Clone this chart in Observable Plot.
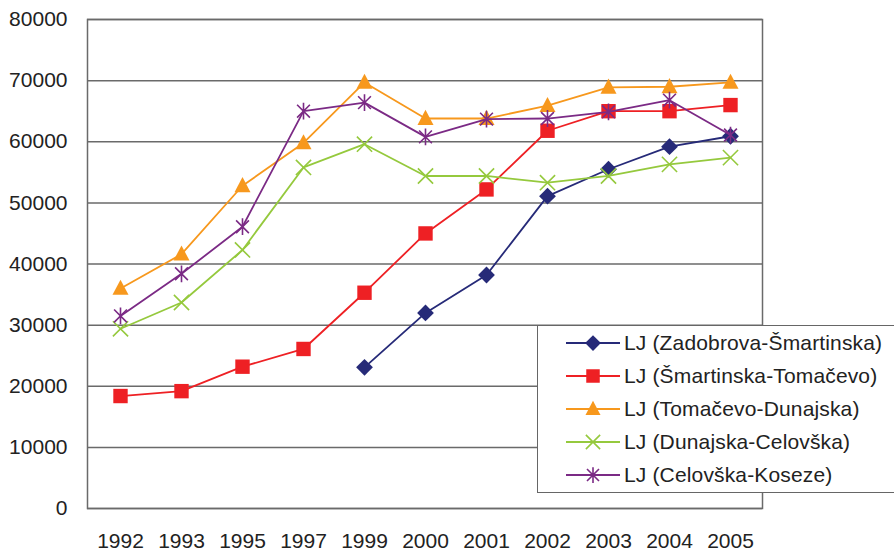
<!DOCTYPE html>
<html>
<head>
<meta charset="utf-8">
<script src="https://cdn.jsdelivr.net/npm/d3@7"></script>
<script src="https://cdn.jsdelivr.net/npm/@observablehq/plot@0.6"></script>
<style>
  html, body { margin: 0; padding: 0; background: #fff; overflow: hidden; }
  #wrap { position: relative; width: 894px; height: 551px; font-family: "Liberation Sans", Arial, sans-serif; }
  #legend { position: absolute; left: 537px; top: 325px; width: 400px; height: 166px; background: #fff; border: 1.5px solid #666; }
  #legend .row { position: absolute; left: 0; height: 33px; display: flex; align-items: center; font-size: 21px; color: #222; white-space: nowrap; letter-spacing: 0.15px; }
  #legend svg { display: block; margin-left: 28px; margin-right: 4px; }
</style>
</head>
<body>
<div id="wrap"><div id="legend"></div></div>
<script>
const years = ["1992","1993","1995","1997","1999","2000","2001","2002","2003","2004","2005"];
const zadobrova  = [null, null, null, null, 23100, 32000, 38200, 51100, 55500, 59200, 60900];
const smartinska = [18400, 19200, 23200, 26100, 35300, 45000, 52200, 61800, 65000, 65000, 66000];
const tomacevo   = [36000, 41600, 52800, 59800, 69700, 63800, 63800, 65900, 68900, 69000, 69700];
const dunajska   = [29400, 33700, 42300, 55800, 59600, 54400, 54400, 53300, 54400, 56300, 57400];
const celovska   = [31500, 38400, 46100, 65000, 66400, 60800, 63700, 63800, 64900, 66800, 61100];
const seriesNames = [
  "LJ (Zadobrova-Šmartinska)",
  "LJ (Šmartinska-Tomačevo)",
  "LJ (Tomačevo-Dunajska)",
  "LJ (Dunajska-Celovška)",
  "LJ (Celovška-Koseze)"
];
const seriesColors = ["#262a78", "#ee2024", "#f7981d", "#95c93d", "#7b2a85"];
const yTicks = [0, 10000, 20000, 30000, 40000, 50000, 60000, 70000, 80000];

const seriesValues = [zadobrova, smartinska, tomacevo, dunajska, celovska];

// custom marker shapes
const rOf = size => Math.sqrt(size / Math.PI);
const diamondSym = {draw(c, size) { const r = rOf(size) * 1.05; c.moveTo(0, -r); c.lineTo(r, 0); c.lineTo(0, r); c.lineTo(-r, 0); c.closePath(); }};
const squareSym = {draw(c, size) { const r = rOf(size) * 0.9; c.rect(-r, -r, 2 * r, 2 * r); }};
const triangleSym = {draw(c, size) { const r = rOf(size); c.moveTo(0, -r * 1.1); c.lineTo(r, r * 0.8); c.lineTo(-r, r * 0.8); c.closePath(); }};
const timesSym = {draw(c, size) { const r = rOf(size) * 0.95; c.moveTo(-r, -r); c.lineTo(r, r); c.moveTo(-r, r); c.lineTo(r, -r); }};
const asteriskSym = {draw(c, size) { const r = rOf(size); c.moveTo(-r * 0.8, -r * 0.8); c.lineTo(r * 0.8, r * 0.8); c.moveTo(-r * 0.8, r * 0.8); c.lineTo(r * 0.8, -r * 0.8); c.moveTo(0, -r * 1.05); c.lineTo(0, r * 1.05); }};
const symbols = [diamondSym, squareSym, triangleSym, timesSym, asteriskSym];
const filled = [true, true, true, false, false];

const marks = [];
marks.push(Plot.ruleY(yTicks, {stroke: "#6a6a6a", strokeWidth: 1.5}));
marks.push(Plot.frame({stroke: "#6a6a6a", strokeWidth: 1.5}));
seriesValues.forEach((vals, i) => {
  const rows = years.map((yr, j) => ({year: yr, value: vals[j]})).filter(d => d.value != null);
  marks.push(Plot.line(rows, {x: "year", y: "value", stroke: seriesColors[i], strokeWidth: 1.8}));
  marks.push(Plot.dot(rows, filled[i]
    ? {x: "year", y: "value", symbol: symbols[i], r: 8, fill: seriesColors[i], stroke: "none"}
    : {x: "year", y: "value", symbol: symbols[i], r: 8, fill: "none", stroke: seriesColors[i], strokeWidth: 1.6}));
});
marks.push(Plot.axisY({ticks: yTicks, tickSize: 0, tickPadding: 20, tickFormat: d => String(d), fill: "#222"}));
marks.push(Plot.axisX({tickSize: 0, tickPadding: 25, fill: "#222"}));

const chart = Plot.plot({
  width: 894,
  height: 551,
  marginLeft: 87,
  marginRight: 132,
  marginTop: 19,
  marginBottom: 43,
  style: {fontFamily: "'Liberation Sans', Arial, sans-serif", fontSize: "21px", background: "#fff", overflow: "visible"},
  x: {type: "point", domain: years, padding: 0.5, label: null},
  y: {domain: [0, 80000], label: null},
  marks
});
const wrap = document.getElementById("wrap");
wrap.insertBefore(chart, wrap.firstChild);

// legend
const legend = document.getElementById("legend");
seriesNames.forEach((name, i) => {
  const row = document.createElement("div");
  row.className = "row";
  row.style.top = (i * 33.2) + "px";
  const svg = d3.create("svg").attr("width", 54).attr("height", 20);
  svg.append("line").attr("x1", 0).attr("x2", 54).attr("y1", 10).attr("y2", 10)
    .attr("stroke", seriesColors[i]).attr("stroke-width", 1.8);
  const p = d3.path();
  symbols[i].draw(p, Math.PI * 7.5 * 7.5);
  svg.append("path").attr("d", p.toString()).attr("transform", "translate(27,10)")
    .attr("fill", filled[i] ? seriesColors[i] : "none")
    .attr("stroke", filled[i] ? "none" : seriesColors[i])
    .attr("stroke-width", 1.6);
  row.appendChild(svg.node());
  const t = document.createElement("span");
  t.textContent = name;
  row.appendChild(t);
  legend.appendChild(row);
});
</script>
</body>
</html>
